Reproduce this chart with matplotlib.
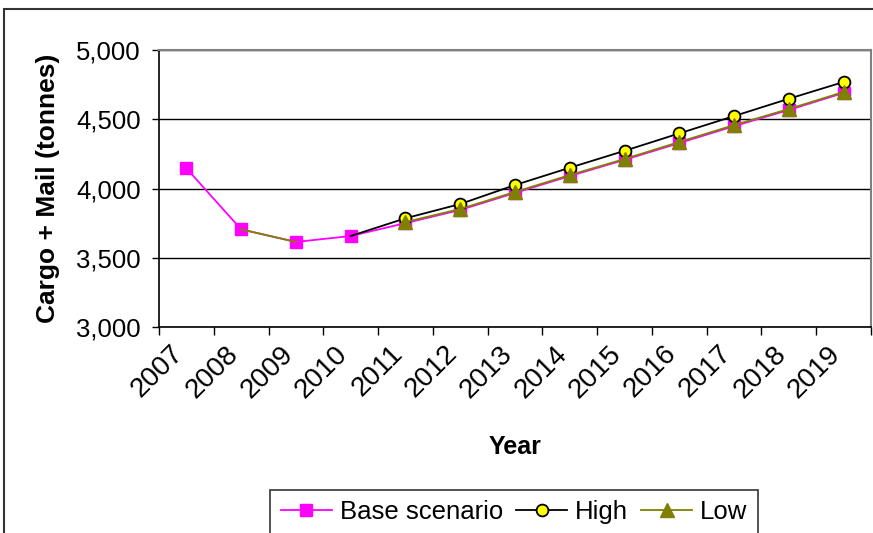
import numpy as np
import matplotlib
matplotlib.use("Agg")
import matplotlib.pyplot as plt
import matplotlib.transforms as mtransforms
from matplotlib.patches import Rectangle

plt.rcParams['font.family'] = ['Liberation Sans', 'DejaVu Sans']

years = ['2007', '2008', '2009', '2010', '2011', '2012', '2013',
         '2014', '2015', '2016', '2017', '2018', '2019']
nan = np.nan
base = [4146, 3705, 3614, 3657, 3750, 3845, 3968, 4090, 4207, 4328, 4450, 4567, 4690]
high = [nan, nan, nan, 3657, 3785, 3888, 4025, 4150, 4272, 4398, 4523, 4648, 4769]
low = [nan, 3705, 3614, nan, 3758, 3852, 3975, 4097, 4213, 4336, 4458, 4574, 4697]

fig = plt.figure(figsize=(8.73, 5.33), dpi=100)
ax = fig.add_axes([159 / 873, 1 - 327 / 533, (871 - 159) / 873, (327 - 50) / 533])

x = np.arange(len(years))
forecast = [i for i in range(len(years)) if i >= 4]
ax.plot(x, base, color='#FF00FF', lw=1.3, marker='s', ms=9,
        mfc='#FF00FF', mec='#FF00FF', label='Base scenario', zorder=3)
ax.plot(x, high, color='black', lw=1.3, marker='o', ms=8.5,
        mfc='#FFFF00', mec='black', mew=1.3, markevery=forecast,
        label='High', zorder=4)
ax.plot(x, low, color='#808000', lw=1.3, marker='^', ms=10,
        mfc='#808000', mec='#808000', markevery=forecast,
        label='Low', zorder=5)

ax.set_xlim(-0.5, len(years) - 0.5)
ax.set_ylim(3000, 5000)
yt = [3000, 3500, 4000, 4500, 5000]
ax.set_yticks(yt)
ax.set_yticklabels([f'{v:,}' for v in yt], fontsize=18.5)
ax.yaxis.grid(True, color='black', lw=1.0)
ax.set_axisbelow(True)

ax.set_xticks(np.arange(-0.5, len(years), 1.0))
ax.set_xticklabels([])
ax.set_xticks(x, minor=True)
ax.set_xticklabels(years, minor=True, rotation=45, ha='right',
                   rotation_mode='anchor', fontsize=20)
ax.tick_params(axis='x', which='minor', length=0, pad=12)
ax.tick_params(axis='x', which='major', length=6, width=1, direction='out')
ax.tick_params(axis='y', length=5, width=1, direction='out', pad=8)

for side in ['top', 'right']:
    ax.spines[side].set_color('#808080')
    ax.spines[side].set_linewidth(1.5)
for side in ['left', 'bottom']:
    ax.spines[side].set_color('black')
    ax.spines[side].set_linewidth(1.2)

ax.set_ylabel('Cargo + Mail (tonnes)', fontsize=19, fontweight='bold', labelpad=12)
fig.text(515 / 873, 1 - 447 / 533, 'Year', fontsize=18, fontweight='bold',
         ha='center', va='center')

leg = fig.legend(loc='upper center', bbox_to_anchor=(514 / 873, 1 - 490 / 533),
                 ncol=3, fontsize=18.5, frameon=True, fancybox=False,
                 edgecolor='black', handlelength=2.0, handletextpad=0.3,
                 columnspacing=0.5, borderpad=0.4, borderaxespad=0)
leg.get_frame().set_linewidth(1.2)

fig.patches.append(Rectangle((4 / 873, -0.2), 1.2, 1.2 - 9 / 533,
                             transform=fig.transFigure, fill=False,
                             edgecolor='#333333', lw=1.5))

# nudge the rotated year labels left/up once the ticks exist
fig.canvas.draw()
shift = mtransforms.ScaledTranslation(-16 / 100, 3 / 100, fig.dpi_scale_trans)
for tick in ax.xaxis.get_minor_ticks():
    tick.label1.set_transform(tick.label1.get_transform() + shift)

fig.savefig('out.png', dpi=100)
